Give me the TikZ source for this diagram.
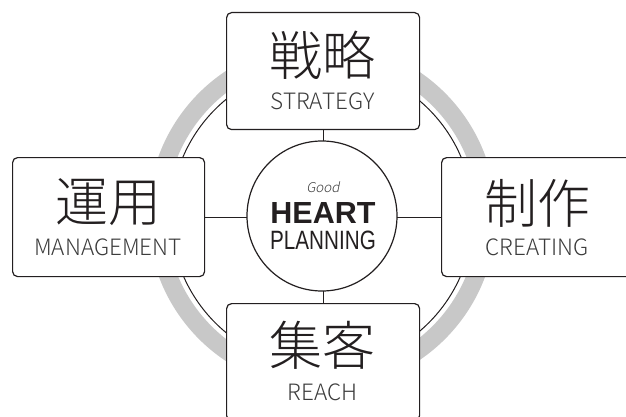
\documentclass[tikz,border=0pt]{standalone}
\usepackage{fontspec}
\setmainfont{Liberation Sans}
\newfontfamily\cjk{Noto Sans CJK JP Light}
\newfontfamily\slantfont[FakeSlant=0.2]{Noto Sans CJK JP Light}
\newfontfamily\engfont{Liberation Sans}
\newfontfamily\narrowfont[FakeStretch=0.78]{Liberation Sans}
\definecolor{ink}{HTML}{231F20}
\definecolor{ringgray}{HTML}{C8C8C8}
\definecolor{txtgray}{HTML}{3C3C3C}
\begin{document}
\begin{tikzpicture}[x=1pt,y=-1pt,
  frame/.style={draw=ink,line width=1.2pt,rounded corners=5pt,fill=white},
  kanji/.style={font=\cjk\fontsize{53}{53}\selectfont,text=ink,inner sep=0},
  eng/.style={font=\cjk\fontsize{22.5}{22.5}\selectfont,text=txtgray,inner sep=0},
  link/.style={draw=ink,line width=1pt}]
\useasboundingbox (0,0) rectangle (626,417);
\clip (0,0) rectangle (626,417);
\coordinate (c) at (322,216);
% gray ring and thin circle
\draw[ringgray,line width=18pt] (c) circle[radius=165];
\draw[ink,line width=1pt] (c) circle[radius=151];
% boxes
\node[frame,minimum width=193,minimum height=117,anchor=north west] (top) at (226,12) {};
\node[frame,minimum width=192,minimum height=119,anchor=north west] (left) at (12,157) {};
\node[frame,minimum width=192,minimum height=119,anchor=north west] (right) at (441,157) {};
\node[frame,minimum width=193,minimum height=117,anchor=north west] (bottom) at (226,303) {};
% connectors
\draw[link] (top.south) -- (bottom.north);
\draw[link] (left.east) -- (right.west);
% center circle
\node[draw=ink,line width=1.2pt,fill=white,circle,minimum size=150,inner sep=0] (hub) at (c) {};
\node[font=\slantfont\fontsize{13.5}{13.5}\selectfont,text=txtgray,inner sep=0,text height=9pt,text depth=0pt] (good) at (323,188) {Good};
\node[font=\engfont\bfseries\fontsize{30.5}{30.5}\selectfont,text=ink,inner sep=0,text height=22pt,text depth=0pt] (heart) at (323,212.5) {HEART};
\node[font=\narrowfont\fontsize{26.5}{26.5}\selectfont,text=ink,inner sep=0,text height=19pt,text depth=0pt] (plan) at (323,240) {PLANNING};
% texts
\node[kanji] (k1) at (322.5,55) {戦略};
\node[eng] (e1) at (322.5,101) {STRATEGY};
\node[kanji] (k2) at (108,202) {運用};
\node[eng] (e2) at (108,247) {MANAGEMENT};
\node[kanji] (k3) at (537,203) {制作};
\node[eng] (e3) at (537,247) {CREATING};
\node[kanji] (k4) at (322.5,345) {集客};
\node[eng] (e4) at (322.5,392) {REACH};
\end{tikzpicture}
\end{document}
